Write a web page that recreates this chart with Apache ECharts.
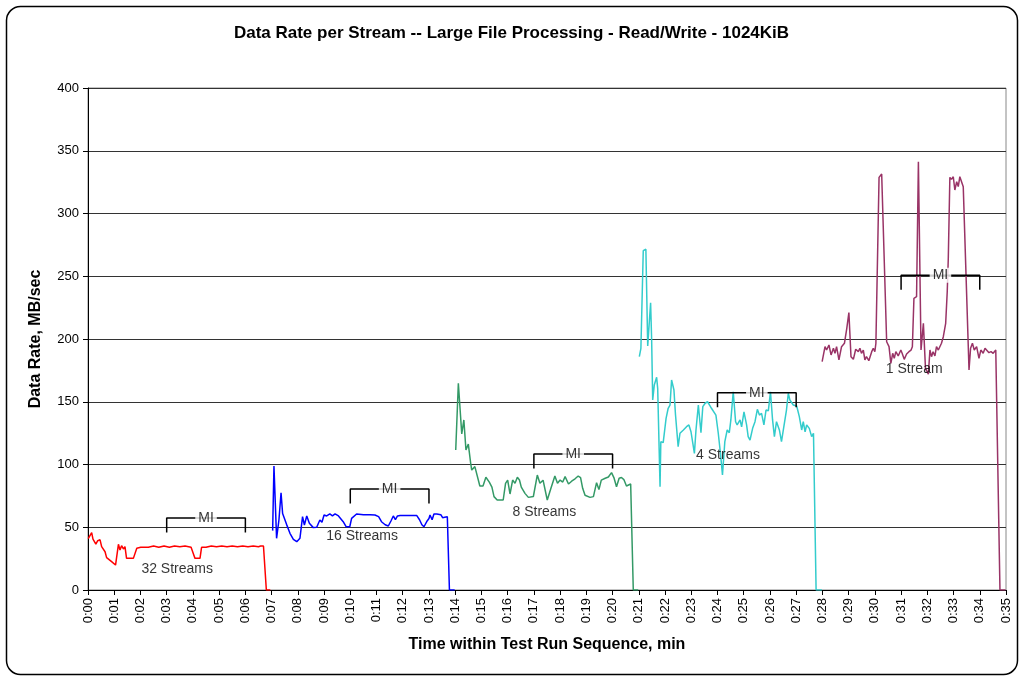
<!DOCTYPE html>
<html>
<head>
<meta charset="utf-8">
<script src="https://cdn.jsdelivr.net/npm/echarts@6/dist/echarts.min.js"></script>
<style>
html,body{margin:0;padding:0;background:#fff;}
#chart{width:1023px;height:677px;}
</style>
</head>
<body>
<div id="chart"></div>
<script>
var titleText = 'Data Rate per Stream -- Large File Processing - Read/Write - 1024KiB';
var yAxisName = 'Data Rate, MB/sec';
var xAxisName = 'Time within Test Run Sequence, min';
var yTicks = [0, 50, 100, 150, 200, 250, 300, 350, 400];

var seriesNames = ['32 Streams', '16 Streams', '8 Streams', '4 Streams', '1 Stream'];
var seriesColors = ['#FF0000', '#0000FF', '#339966', '#33CCCC', '#993366'];

var t32 = [0.01,0.08,0.14,0.19,0.24,0.30,0.37,0.46,0.52,0.65,0.71,0.90,1.05,1.16,1.22,1.28,1.35,1.41,1.47,1.73,1.86,1.92,2.01,2.3,2.5,2.7,2.9,3.1,3.3,3.5,3.7,3.93,4.02,4.08,4.27,4.33,4.5,4.7,4.9,5.1,5.3,5.5,5.7,5.9,6.1,6.3,6.5,6.58,6.69,6.74,6.80,6.95];
var v32 = [41,40,45.7,40.6,42,36.6,39.3,40,34.5,30.5,25.8,22.6,19.9,36.4,31.9,35.3,32.7,34.5,25.2,25.2,33.2,33.8,34,34,35,34,35,34,35,34.5,35,34,28.7,25.2,25.2,34,34,35,34.5,35,34.5,35,34.5,35,34.5,35,34.5,35,35,35,0,0];

var t16 = [7.04,7.09,7.19,7.28,7.36,7.42,7.57,7.70,7.83,7.96,8.08,8.18,8.25,8.34,8.44,8.59,8.72,8.84,8.92,9.00,9.10,9.22,9.32,9.42,9.55,9.62,9.73,9.84,9.98,10.05,10.12,10.24,10.50,10.75,10.94,11.08,11.19,11.33,11.45,11.55,11.64,11.72,11.80,11.90,12.20,12.53,12.64,12.73,12.81,12.93,13.00,13.04,13.12,13.19,13.30,13.45,13.52,13.60,13.70,13.78,13.98];
var v16 = [47.3,98.8,41.2,55.8,77.5,61,52.3,45.2,40.4,38.5,41.2,58.4,51.8,59,53.1,49.7,50,55.8,54,59.8,59,60.6,59,60.6,59,59.8,54.4,50.4,50.4,57.1,56.5,60.6,60,60,59.8,58.5,54.4,52,51,55,59,56,59,59.4,59.4,59.4,56,52,50.4,55,57,59.8,56,60.6,60.6,60,57.6,58,58.4,0,0];

var t8 = [14.02,14.12,14.25,14.33,14.41,14.50,14.59,14.63,14.75,14.82,14.94,15.06,15.17,15.30,15.40,15.48,15.60,15.83,15.92,16.00,16.09,16.19,16.28,16.37,16.45,16.52,16.66,16.79,16.98,17.13,17.23,17.35,17.51,17.65,17.80,17.90,18.00,18.10,18.19,18.32,18.44,18.57,18.69,18.78,18.86,18.95,19.14,19.27,19.39,19.48,19.57,19.72,19.84,19.96,20.05,20.15,20.25,20.34,20.43,20.53,20.60,20.69,20.79,20.98];
var v8 = [111.6,164.7,124.3,135.5,111.6,116.3,101,95.6,98.3,97,82.9,82.9,89.8,86,82,74.4,71.7,71.7,85,87.5,76.5,87.6,85,89.8,87.6,82,77,73.8,74.5,91.6,85,87.5,71.7,81,90.8,85,87.6,86,90.3,84.5,86.7,88.6,90.8,89.6,81,75.5,73.8,74.4,85.5,80,87.6,89,90,93.5,89.6,82.3,89,89.6,88,82.9,83.7,84.5,0,0];

var t4 = [21.02,21.08,21.17,21.27,21.34,21.45,21.49,21.53,21.59,21.68,21.72,21.81,21.84,21.93,22.04,22.12,22.19,22.25,22.34,22.40,22.50,22.57,22.70,22.82,22.91,22.99,23.12,23.18,23.27,23.37,23.44,23.53,23.62,23.71,23.77,23.94,24.03,24.12,24.19,24.28,24.37,24.45,24.51,24.60,24.69,24.75,24.86,24.92,25.01,25.11,25.17,25.24,25.34,25.43,25.52,25.60,25.68,25.77,25.85,25.94,26.02,26.10,26.17,26.25,26.36,26.44,26.53,26.63,26.70,26.76,26.89,27.02,27.12,27.21,27.27,27.34,27.40,27.50,27.59,27.66,27.72,27.76,27.98];
var v4 = [185.9,192.6,270.4,271.5,194.4,228.9,199.2,151.4,163.3,169.5,160.7,82.3,118.2,117.4,136.8,144.8,147.4,167.3,159.4,139.4,114.2,124.9,127.5,130.1,131.5,126.1,108.9,127.5,147.4,125.3,146.1,148.8,150,146.9,144.8,139.4,124.9,107.6,91.6,118.2,127.5,125.3,135.5,158,134.1,131.5,135.5,130,142,131.5,122.2,119.5,128.8,134.1,144,139.4,140.8,131.5,143.4,142.9,158,135.5,122.2,134.1,127.5,118.2,130.1,143.4,156.8,151.4,147.4,146.6,138.1,127.5,134.1,126.1,131.5,128.8,122.2,124.9,124.9,0,0];

var t1 = [27.99,28.10,28.16,28.25,28.33,28.42,28.48,28.54,28.63,28.73,28.84,28.93,29.01,29.09,29.18,29.27,29.37,29.43,29.49,29.56,29.62,29.68,29.77,29.88,29.94,30.00,30.04,30.16,30.26,30.32,30.45,30.54,30.61,30.68,30.74,30.80,30.89,30.99,31.04,31.12,31.21,31.30,31.38,31.43,31.49,31.59,31.66,31.76,31.85,31.93,32.04,32.10,32.16,32.22,32.29,32.35,32.42,32.48,32.54,32.61,32.70,32.76,32.80,32.86,32.92,32.99,33.05,33.12,33.18,33.24,33.31,33.37,33.59,33.65,33.72,33.79,33.88,33.97,34.04,34.13,34.20,34.26,34.35,34.43,34.51,34.61,34.67,34.77,34.98];
var v1 = [181.9,193.9,191.2,195.2,187.3,192.6,188.6,193.9,183.3,193.9,196.6,208.5,221,185.9,183.8,191.8,189.9,192.6,188.6,191.2,183.3,185.9,182.7,189.9,192.6,189.9,196.6,328.8,331.5,332,197.8,193.9,180.6,188.6,184.6,189.9,186.5,191.2,188.6,183.8,188,189.9,191.2,193.9,232.4,233.7,341.3,191.2,212.5,176.6,172,191.2,185.9,189.9,186.5,193.9,191.2,192.6,196.6,201.8,212.5,237.8,264.3,328.8,327.2,329.3,318.7,325.3,321.4,329.3,330.7,321.4,175.3,192.6,196.6,191.2,193.9,184.6,191.2,188.6,192.6,191.2,189.1,189.9,188.6,191.2,192.6,0,0];

var seriesTimes = [t32, t16, t8, t4, t1];
var seriesValues = [v32, v16, v8, v4, v1];

// "MI" measurement-interval brackets: start/end minute, level (MB/sec)
var miStart = [3, 10, 17, 24, 31];
var miEnd = [6, 13, 20, 27, 34];
var miLevel = [57.4, 80.5, 108.4, 157.2, 250.8];
var miDrop = 11.5;

// Series text labels: anchor in data units
var labelTime = [3.4, 10.45, 17.4, 24.4, 31.5];
var labelValue = [16.5, 43, 62, 107.5, 176];

function pad(n){ return (n < 10 ? '0' : '') + n; }

var chart = echarts.init(document.getElementById('chart'), null, {renderer: 'canvas'});
var FONT = 'Liberation Sans, Arial, sans-serif';

var series = [];
for (var i = 0; i < seriesNames.length; i++) {
  var d = [];
  for (var j = 0; j < seriesTimes[i].length; j++) d.push([seriesTimes[i][j], seriesValues[i][j]]);
  series.push({
    name: seriesNames[i], type: 'line', data: d, showSymbol: false, symbol: 'none',
    lineStyle: {color: seriesColors[i], width: 1.5}, z: 3, animation: false
  });
}
for (var k = 0; k < miStart.length; k++) {
  series.push({
    type: 'line', data: [[miStart[k], miLevel[k] - miDrop], [miStart[k], miLevel[k]], [miEnd[k], miLevel[k]], [miEnd[k], miLevel[k] - miDrop]],
    symbol: 'none', lineStyle: {color: '#000', width: 1.5}, z: 4, animation: false, silent: true
  });
}
var miPts = [];
for (var k = 0; k < miStart.length; k++) miPts.push([(miStart[k] + miEnd[k]) / 2, miLevel[k]]);
series.push({
  type: 'scatter', data: miPts, symbolSize: 0, z: 10, animation: false, silent: true,
  label: {show: true, position: 'inside', formatter: 'MI', color: '#000', fontSize: 14, fontFamily: FONT,
          backgroundColor: '#fff', padding: [1, 3, 0, 3]}
});
var lblPts = [];
for (var k = 0; k < labelTime.length; k++) lblPts.push({value: [labelTime[k], labelValue[k]], name: seriesNames[k]});
series.push({
  type: 'scatter', data: lblPts, symbolSize: 0, z: 10, animation: false, silent: true,
  label: {show: true, position: 'inside', formatter: '{b}', color: '#000', fontSize: 14, fontFamily: FONT}
});

chart.setOption({
  animation: false,
  backgroundColor: '#fff',
  title: {text: titleText, left: 'center', top: 20, textStyle: {fontSize: 17, fontWeight: 'bold', color: '#000', fontFamily: FONT}},
  grid: {left: 88, right: 17, top: 88, bottom: 87, show: true, borderColor: '#888', borderWidth: 1, backgroundColor: 'transparent'},
  xAxis: {
    type: 'value', min: 0, max: 35, interval: 1,
    name: xAxisName, nameLocation: 'middle', nameGap: 47,
    nameTextStyle: {fontSize: 16, fontWeight: 'bold', color: '#000', fontFamily: FONT},
    axisLine: {lineStyle: {color: '#000', width: 1}},
    axisTick: {show: true, length: 5, lineStyle: {color: '#000'}},
    splitLine: {show: false},
    axisLabel: {rotate: 90, color: '#000', fontSize: 13, fontFamily: FONT, margin: 8,
                formatter: function (v) { return '0:' + pad(v); }}
  },
  yAxis: {
    type: 'value', min: yTicks[0], max: yTicks[yTicks.length - 1], interval: 50,
    name: yAxisName, nameLocation: 'middle', nameGap: 44, nameRotate: 90,
    nameTextStyle: {fontSize: 16, fontWeight: 'bold', color: '#000', fontFamily: FONT},
    axisLine: {show: true, lineStyle: {color: '#000', width: 1}},
    axisTick: {show: true, length: 5, lineStyle: {color: '#000'}},
    splitLine: {show: true, lineStyle: {color: '#333', width: 1}},
    axisLabel: {color: '#000', fontSize: 13, fontFamily: FONT, margin: 9}
  },
  graphic: [{
    type: 'rect', left: 4, top: 4, z: -10, silent: true,
    shape: {width: 1011, height: 668, r: 14},
    style: {fill: 'none', stroke: '#000', lineWidth: 1.5}
  }],
  series: series
});
</script>
</body>
</html>
